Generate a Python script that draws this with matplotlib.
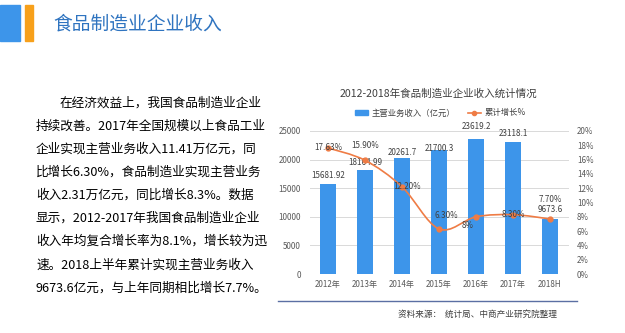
import matplotlib
matplotlib.use("Agg")
import matplotlib.pyplot as plt
from matplotlib.path import Path
from matplotlib.patches import PathPatch, Rectangle
import matplotlib.lines as mlines
import matplotlib.patches as mpatches

plt.rcParams['font.family'] = ['Noto Sans CJK SC', 'DejaVu Sans']

years = ["2012年", "2013年", "2014年", "2015年", "2016年", "2017年", "2018H"]
revenue = [15681.92, 18164.99, 20261.7, 21700.3, 23619.2, 23118.1, 9673.6]
revenue_labels = ["15681.92", "18164.99", "20261.7", "21700.3", "23619.2", "23118.1", "9673.6"]
growth = [17.63, 15.90, 12.20, 6.30, 8.0, 8.30, 7.70]
growth_labels = ["17.63%", "15.90%", "12.20%", "6.30%", "8%", "8.30%", "7.70%"]

paragraph = [
    "在经济效益上，我国食品制造业企业",
    "持续改善。2017年全国规模以上食品工业",
    "企业实现主营业务收入11.41万亿元，同",
    "比增长6.30%，食品制造业实现主营业务",
    "收入2.31万亿元，同比增长8.3%。数据",
    "显示，2012-2017年我国食品制造业企业",
    "收入年均复合增长率为8.1%，增长较为迅",
    "速。2018上半年累计实现主营业务收入",
    "9673.6亿元，与上年同期相比增长7.7%。",
]

bar_color = "#3d95ea"
line_color = "#ef7c45"
tick_color = "#595959"

W, H = 625, 333
fig = plt.figure(figsize=(6.25, 3.33), dpi=100)

# header
fig.patches.append(Rectangle((0 / W, 1 - 41 / H), 20 / W, 36 / H, transform=fig.transFigure,
                             color="#3d95ea", zorder=1))
fig.patches.append(Rectangle((25 / W, 1 - 41 / H), 8 / W, 36 / H, transform=fig.transFigure,
                             color="#f7a01b", zorder=1))
fig.text(53 / W, 1 - 24 / H, "食品制造业企业收入", fontsize=13.5, color="#2f74c0",
         va="center", ha="left")

# paragraph on the left
for i, line in enumerate(paragraph):
    x = 60 if i == 0 else 36
    fig.text(x / W, 1 - (103 + i * 23.1) / H, line, fontsize=9.1, color="black",
             va="center", ha="left")

# chart
ax = fig.add_axes([309.5 / W, 59 / H, 259 / W, 143 / H])
ax2 = ax.twinx()
xs = list(range(len(years)))

ax.bar(xs, revenue, width=0.43, color=bar_color, zorder=2)
ax.set_ylim(0, 25000)
ax.set_xlim(-0.5, len(years) - 0.5)
ax.set_yticks(range(0, 25001, 5000))
ax.set_xticks(xs)
ax.set_xticklabels(years)
ax.yaxis.grid(True, color="#d9d9d9", linewidth=0.7, zorder=0)
ax.set_axisbelow(True)
for a in (ax, ax2):
    for s in a.spines.values():
        s.set_visible(False)
    a.tick_params(length=0, labelsize=5.8, colors=tick_color)
ax.tick_params(axis="y", pad=6)
ax.tick_params(axis="x", pad=4)

ax2.set_ylim(0, 20)
ax2.set_yticks(range(0, 21, 2))
ax2.set_yticklabels([f"{v}%" for v in range(0, 21, 2)])
ax2.tick_params(axis="y", pad=6)

# smoothed line (Bezier through data points)
pts = list(zip(xs, growth))
verts = [pts[0]]
codes = [Path.MOVETO]
n = len(pts)
for i in range(n - 1):
    p0 = pts[max(i - 1, 0)]
    p1 = pts[i]
    p2 = pts[i + 1]
    p3 = pts[min(i + 2, n - 1)]
    c1 = (p1[0] + (p2[0] - p0[0]) / 6, p1[1] + (p2[1] - p0[1]) / 6)
    c2 = (p2[0] - (p3[0] - p1[0]) / 6, p2[1] - (p3[1] - p1[1]) / 6)
    verts += [c1, c2, p2]
    codes += [Path.CURVE4] * 3
ax2.add_patch(PathPatch(Path(verts, codes), fill=False, edgecolor=line_color,
                        linewidth=1.2, zorder=3))
ax2.plot(xs, growth, linestyle="none", marker="o", markersize=3.5, color=line_color, zorder=4)

# bar labels
bar_offsets = [(0, 9), (0, 8), (0, 6), (0, 1), (0, 12), (0, 8), (0, 9)]
for x, v, lab, off in zip(xs, revenue, revenue_labels, bar_offsets):
    ax.annotate(lab, (x, v), xytext=off, textcoords="offset pixels", ha="center",
                va="center", fontsize=5.8, color="#404040", zorder=5)

# growth labels
growth_offsets = [(0, 0), (0, 15), (5, 0), (7, 13), (-8, -9), (0, 0), (0, 19)]
for x, v, lab, off in zip(xs, growth, growth_labels, growth_offsets):
    ax2.annotate(lab, (x, v), xytext=off, textcoords="offset pixels", ha="center",
                 va="center", fontsize=5.8, color="#404040", zorder=5)

# chart title & legend
fig.text(438 / W, 1 - 94 / H, "2012-2018年食品制造业企业收入统计情况", fontsize=7.6,
         color="#404040", ha="center", va="center")
handles = [mpatches.Patch(color=bar_color, label="主营业务收入（亿元）"),
           mlines.Line2D([], [], color=line_color, marker="o", markersize=3,
                         linewidth=1.2, label="累计增长%")]
fig.legend(handles=handles, loc="center", bbox_to_anchor=(440 / W, 1 - 113 / H),
           ncol=2, frameon=False, fontsize=6, labelcolor="#404040",
           handlelength=1.6, handleheight=0.6, columnspacing=1.5, handletextpad=0.4)

# bottom separator and source
fig.add_artist(mlines.Line2D([278 / W, 577 / W], [1 - 301 / H, 1 - 301 / H],
                             transform=fig.transFigure, color="#5b6fa3", linewidth=1))
fig.text(478 / W, 1 - 314 / H, "资料来源：  统计局、中商产业研究院整理", fontsize=6.2,
         color="#404040", ha="center", va="center")

fig.savefig("out.png", dpi=100)
